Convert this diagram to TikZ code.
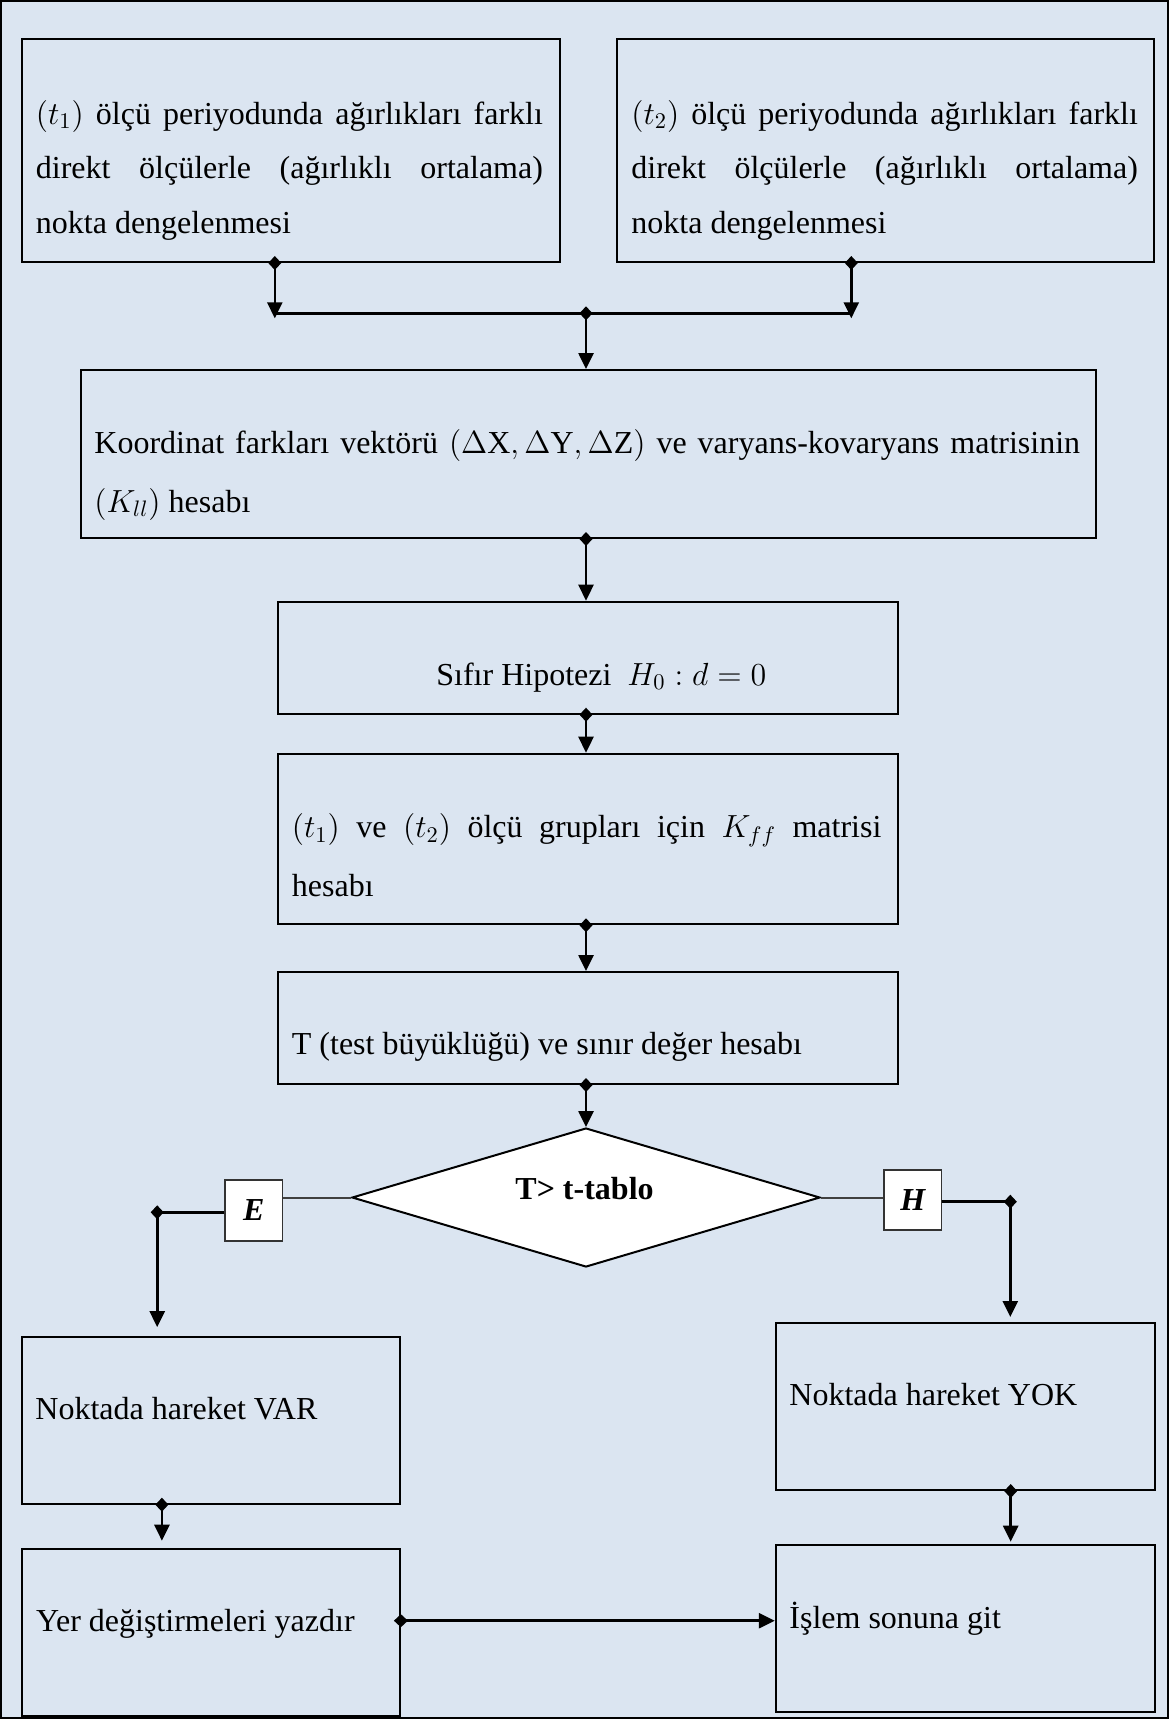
\documentclass[tikz,border=0pt]{standalone}
\usepackage{fix-cm}
\usepackage{fontspec}
\setmainfont{Liberation Serif}
\usetikzlibrary{arrows.meta,shapes.geometric}
\definecolor{bg}{HTML}{DBE5F1}
\hyphenpenalty=10000
\exhyphenpenalty=10000
\tolerance=10000
\begin{document}
\begin{tikzpicture}[x=0.5pt,y=-0.5pt,
  box/.style={draw,line width=1pt,rectangle,inner sep=0pt,anchor=north west},
  txt/.style={inner sep=0pt,anchor=base west,align=justify},
  ltxt/.style={inner sep=0pt,anchor=base west,font=\fontsize{16}{20}\selectfont},
  lw/.style={line width=1.3pt},
  dconn/.style={line width=1.3pt,{Diamond[length=7pt,width=6.5pt]}-{Triangle[length=8pt,width=7.5pt]},shorten <=-3.5pt},
  thinl/.style={line width=1pt,draw=black!75},
  lbox/.style={draw=black!80,fill=white,line width=0.8pt,inner sep=0pt,anchor=north west,minimum width=28.7pt,font=\fontsize{16}{19}\selectfont\bfseries\itshape}
]
\useasboundingbox (0,0) rectangle (1169,1719);
\fill[bg] (0,0) rectangle (1169,1719);
\draw[line width=1.2pt] (1.2,1.2) rectangle (1167.8,1717.8);

% top boxes
\node[box,minimum width=269pt,minimum height=111.5pt] (b1) at (20.5,38) {};
\node[txt,text width=253.5pt,font=\fontsize{16}{27.3}\selectfont] (t1) at (35.5,124)
  {$(t_1)$ ölçü periyodunda ağırlıkları farklı\linebreak direkt ölçülerle (ağırlıklı ortalama)\linebreak nokta dengelenmesi};
\node[box,minimum width=268.5pt,minimum height=111.5pt] (b2) at (616,38) {};
\node[txt,text width=253.25pt,font=\fontsize{16}{27.3}\selectfont] (t2) at (631,124)
  {$(t_2)$ ölçü periyodunda ağırlıkları farklı\linebreak direkt ölçülerle (ağırlıklı ortalama)\linebreak nokta dengelenmesi};

% box 3
\node[box,minimum width=507.6pt,minimum height=84pt] (b3) at (79.5,369) {};
\node[txt,text width=492.9pt,font=\fontsize{16}{29.5}\selectfont] (t3) at (94,453)
  {Koordinat farkları vektörü $(\Delta\mathrm{X},\Delta\mathrm{Y},\Delta\mathrm{Z})$ ve varyans-kovaryans matrisinin\linebreak $(K_{ll})$ hesabı};

% box 4
\node[box,minimum width=310pt,minimum height=56pt] (b4) at (276.5,600.7) {};
\node[ltxt] (t4) at (436,685) {Sıfır Hipotezi\ \ $H_0 : d = 0$};

% box 5
\node[box,minimum width=310pt,minimum height=85.3pt] (b5) at (276.5,752.7) {};
\node[txt,text width=294.75pt,font=\fontsize{16}{29.5}\selectfont] (t5) at (291.5,837.5)
  {$(t_1)$ ve $(t_2)$ ölçü grupları için $K_{ff}$ matrisi\linebreak hesabı};

% box 6
\node[box,minimum width=310pt,minimum height=56pt] (b6) at (276.5,971) {};
\node[ltxt] (t6) at (291.5,1054) {T (test büyüklüğü) ve sınır değer hesabı};

% decision
\node[draw,diamond,fill=white,line width=1pt,inner sep=0pt,minimum width=234pt,minimum height=69.5pt] (dec) at (586,1197.5) {};
\node[ltxt,font=\fontsize{16}{20}\selectfont\bfseries] (dt) at (515,1199) {T> t-tablo};

\node[lbox,minimum height=30.35pt] (E) at (224.4,1179.3) {E};
\node[lbox,minimum height=30pt] (H) at (883.4,1169.3) {H};

% lower boxes
\node[box,minimum width=189pt,minimum height=83.5pt] (VAR) at (20.9,1335.7) {};
\node[ltxt] (tvar) at (35,1419) {Noktada hareket VAR};
\node[box,minimum width=189.4pt,minimum height=83.5pt] (YOK) at (774.8,1322) {};
\node[ltxt] (tyok) at (789,1405.5) {Noktada hareket YOK};
\node[box,minimum width=189pt,minimum height=83.6pt] (Yer) at (20.9,1547.7) {};
\node[ltxt] (tyer) at (35.8,1631) {Yer değiştirmeleri yazdır};
\node[box,minimum width=189.4pt,minimum height=83.5pt] (Isl) at (774.8,1543.7) {};
\node[ltxt] (tisl) at (789,1628) {İşlem sonuna git};

% connectors
\coordinate (j) at (586,313.3);
\coordinate (ja) at (274.8,313.3);
\coordinate (jb) at (851.3,313.3);
\draw[lw] (ja) -- (jb);
\draw[dconn] (b1.south -| ja) -- ([yshift=-2.5pt]ja);
\draw[dconn] (b2.south -| jb) -- ([yshift=-2.5pt]jb);
\draw[dconn] (j) -- (b3.north -| j);
\draw[dconn] (b3.south -| j) -- (b4.north -| j);
\draw[dconn] (b4.south -| j) -- (b5.north -| j);
\draw[dconn] (b5.south -| j) -- (b6.north -| j);
\draw[dconn] (b6.south -| j) -- (dec.north);

\draw[thinl] (dec.west) -- (dec.west -| E.east);
\draw[thinl] (dec.east) -- (dec.east -| H.west);

\coordinate (ec) at (157.2,1212.3);
\draw[lw] (E.west |- ec) -- (ec);
\draw[dconn,shorten >=4.3pt] (ec) -- (ec |- VAR.north);
\coordinate (hc) at (1010.3,1201.7);
\draw[lw] (H.east |- hc) -- (hc);
\draw[dconn,shorten >=2.5pt] (hc) -- (hc |- YOK.north);

\draw[dconn,shorten >=3.5pt] ([xshift=-24.5pt]VAR.south) -- ([xshift=-24.5pt]Yer.north);
\draw[dconn,shorten >=1pt] ([xshift=22.75pt]YOK.south) -- ([xshift=22.75pt]Isl.north);
\coordinate (hy) at (0,1620.7);
\draw[dconn] (Yer.east |- hy) -- (Isl.west |- hy);
\end{tikzpicture}
\end{document}
